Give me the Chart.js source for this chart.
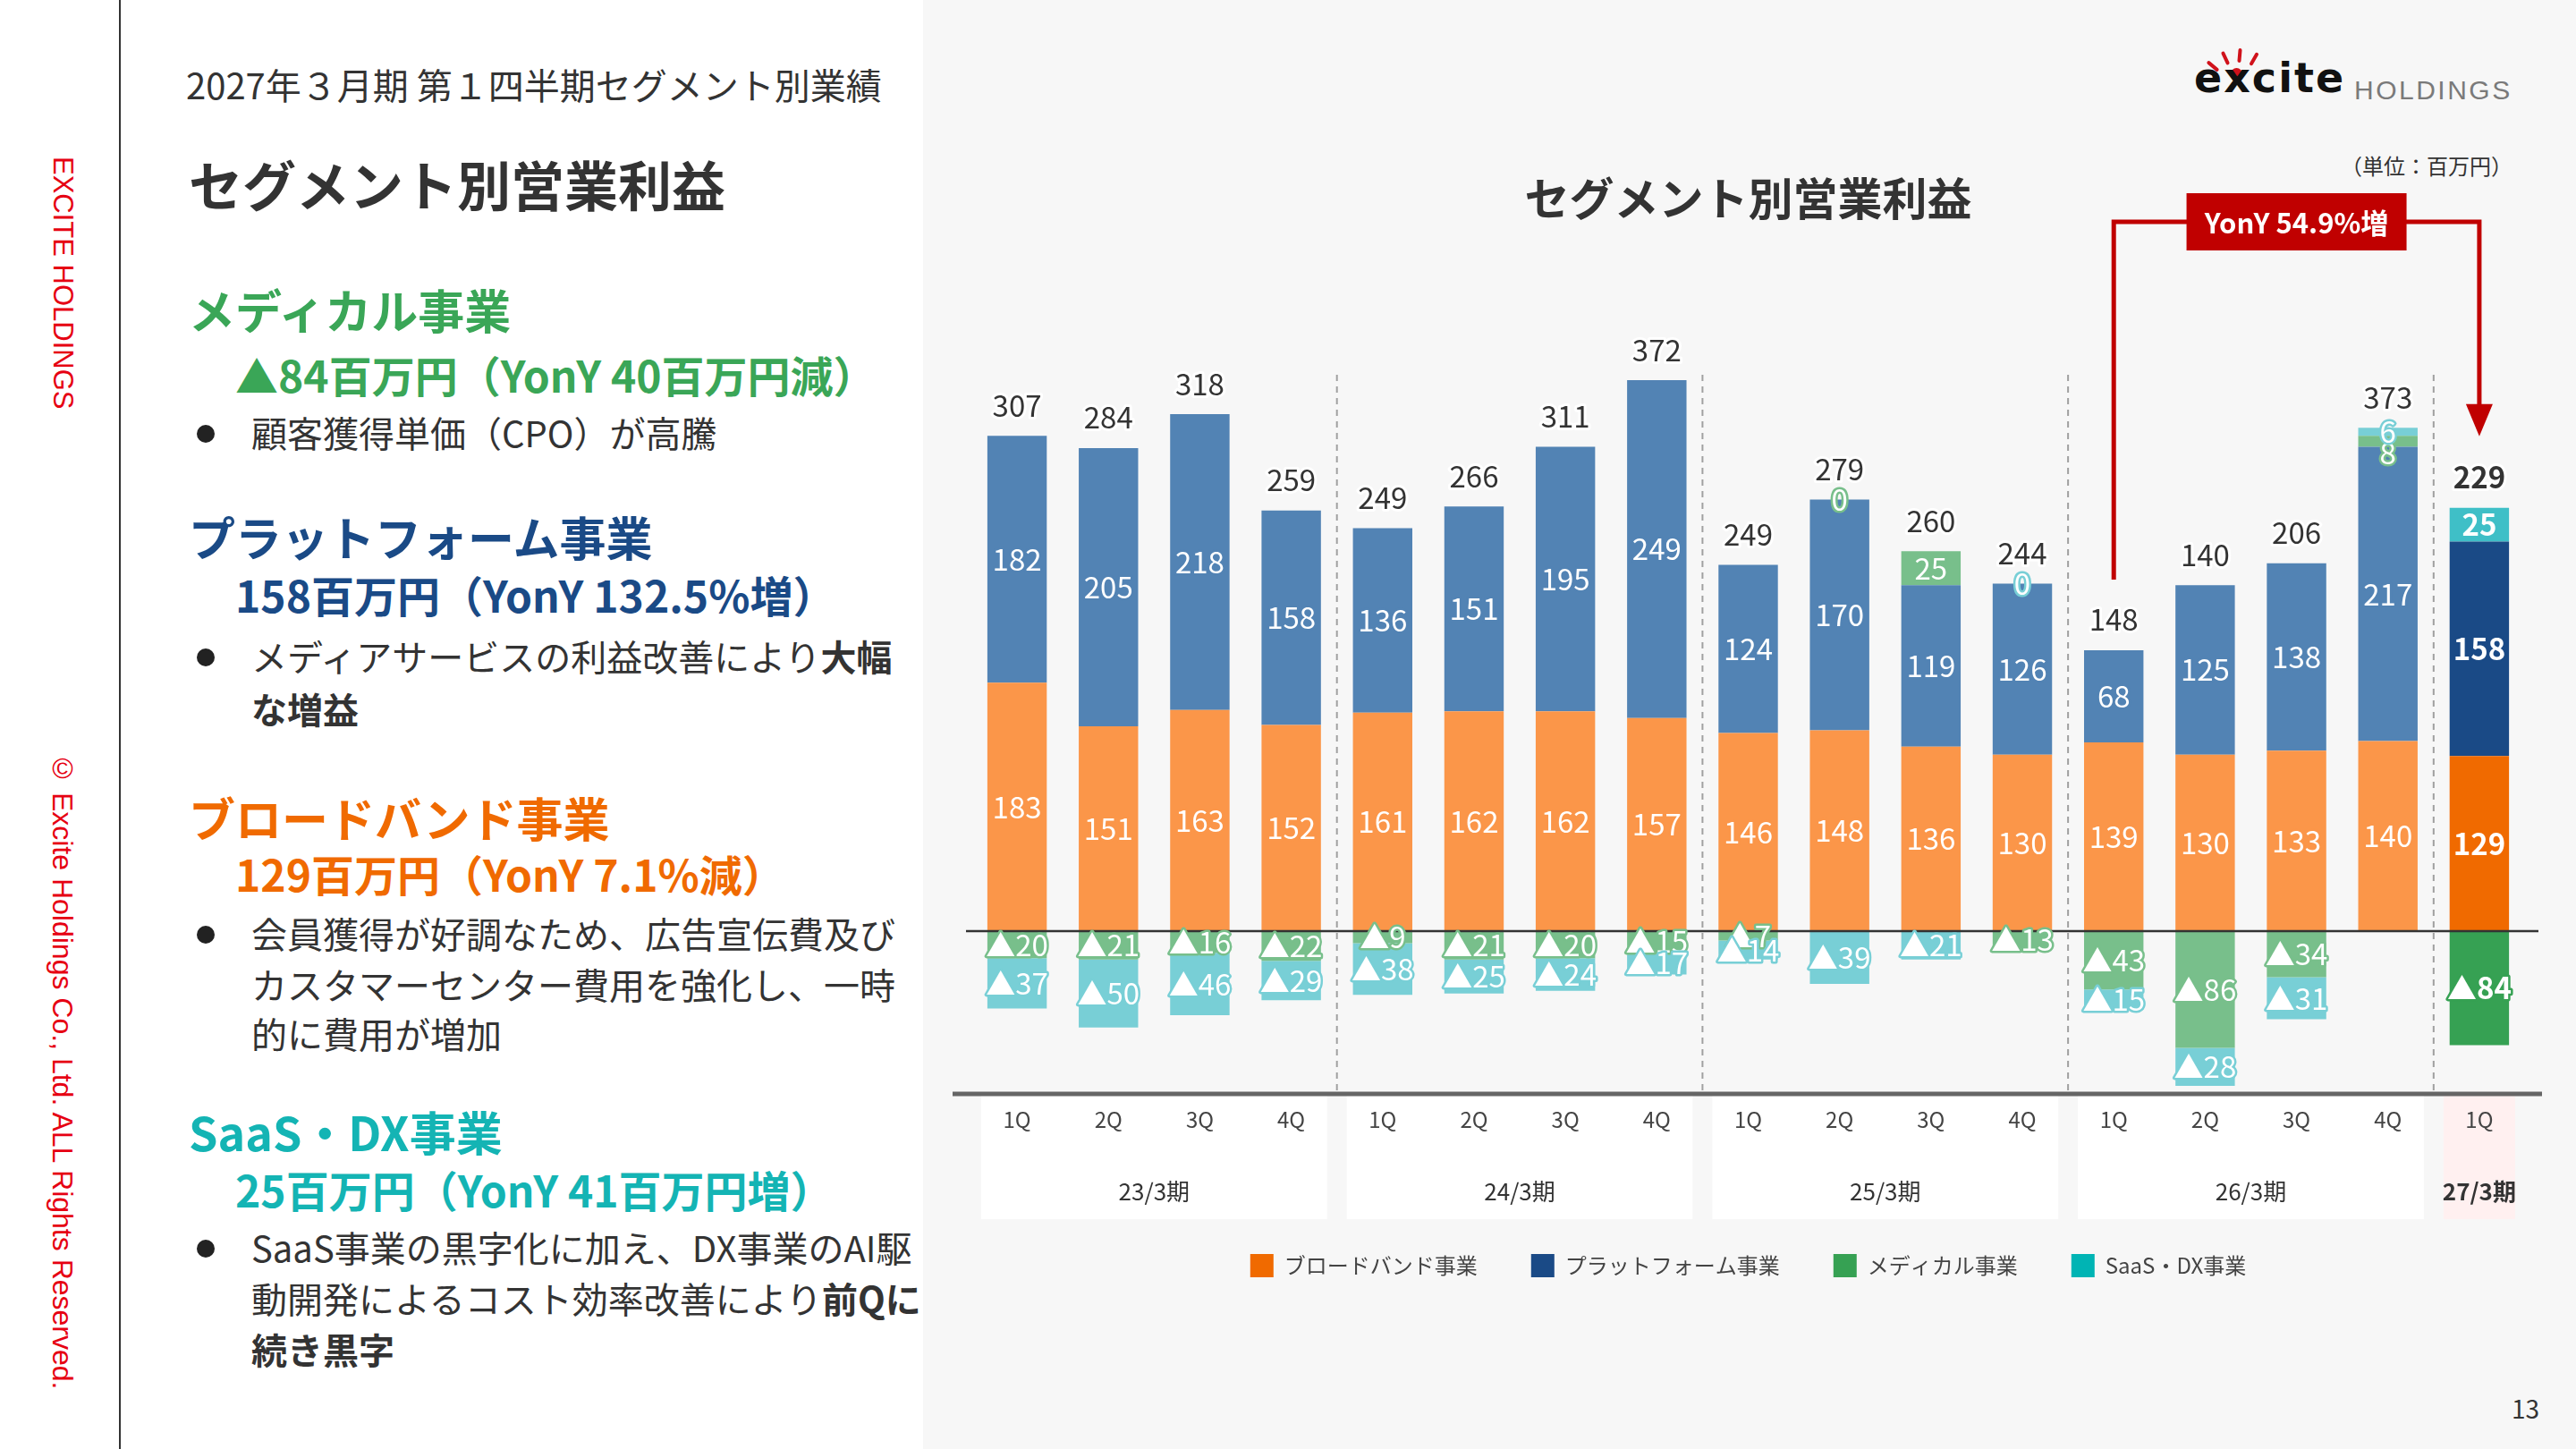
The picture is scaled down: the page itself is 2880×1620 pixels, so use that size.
<!DOCTYPE html>
<html lang="ja">
<head>
<meta charset="utf-8">
<script src="https://cdn.jsdelivr.net/npm/chart.js@4.4.1/dist/chart.umd.min.js"></script>
<style>
  html, body { margin: 0; padding: 0; }
  body { width: 2880px; height: 1620px; position: relative; overflow: hidden; background: #fff;
         font-family: 'Noto Sans CJK JP', 'Noto Sans', sans-serif; color: #333; }
  #right { position: absolute; left: 1032px; top: 0; width: 1848px; height: 1620px; background: #f7f7f7; }
  #vline { position: absolute; left: 133px; top: 0; width: 2px; height: 1620px; background: #333; }
  .t { position: absolute; white-space: nowrap; line-height: 1.2; }
  .b { font-weight: 700; }
  .vert { position: absolute; writing-mode: vertical-rl; line-height: 1; color: #e60012;
          font-family: 'Liberation Sans', sans-serif; white-space: nowrap; }
  .dot { position: absolute; width: 20px; height: 20px; border-radius: 50%; background: #222; }
  .spark { position: absolute; width: 4px; height: 16px; background: #d0121b; border-radius: 2px; }
  #chartBox { position: absolute; left: 1040px; top: 0; width: 1840px; height: 1438px; }
</style>
</head>
<body>
<div id="right"></div>
<div id="vline"></div>

<div class="vert" style="left:55px; top:175px; font-size:31px;">EXCITE HOLDINGS</div>
<div class="vert" style="left:54px; top:841px; font-size:32px;">© Excite Holdings Co., Ltd. ALL Rights Reserved.</div>

<div class="t" style="left:208px; top:70px; font-size:40px;">2027年３月期 第１四半期セグメント別業績</div>
<div class="t b" style="left:211px; top:169px; font-size:60px;">セグメント別営業利益</div>

<div class="t b" style="left:211px; top:315px; font-size:52px; color:#3aa657;">メディカル事業</div>
<div class="t b" style="left:263px; top:390px; font-size:48px; color:#3aa657;">▲84百万円（YonY 40百万円減）</div>
<div class="dot" style="left:220px; top:475px;"></div>
<div class="t" style="left:281px; top:459px; font-size:40px;">顧客獲得単価（CPO）が高騰</div>

<div class="t b" style="left:211px; top:569px; font-size:52px; color:#1a4a86;">プラットフォーム事業</div>
<div class="t b" style="left:263px; top:636px; font-size:48px; color:#1a4a86;">158百万円（YonY 132.5%増）</div>
<div class="dot" style="left:220px; top:725px;"></div>
<div class="t" style="left:281px; top:709px; font-size:40px;">メディアサービスの利益改善により<span class="b">大幅</span></div>
<div class="t b" style="left:281px; top:768px; font-size:40px;">な増益</div>

<div class="t b" style="left:211px; top:883px; font-size:52px; color:#f06a00;">ブロードバンド事業</div>
<div class="t b" style="left:263px; top:948px; font-size:48px; color:#f06a00;">129百万円（YonY 7.1%減）</div>
<div class="dot" style="left:220px; top:1035px;"></div>
<div class="t" style="left:281px; top:1019px; font-size:40px;">会員獲得が好調なため、広告宣伝費及び</div>
<div class="t" style="left:281px; top:1076px; font-size:40px;">カスタマーセンター費用を強化し、一時</div>
<div class="t" style="left:281px; top:1131px; font-size:40px;">的に費用が増加</div>

<div class="t b" style="left:211px; top:1234px; font-size:52px; color:#14b4b4;">SaaS・DX事業</div>
<div class="t b" style="left:263px; top:1301px; font-size:48px; color:#14b4b4;">25百万円（YonY 41百万円増）</div>
<div class="dot" style="left:220px; top:1386px;"></div>
<div class="t" style="left:281px; top:1370px; font-size:40px;">SaaS事業の黒字化に加え、DX事業のAI駆</div>
<div class="t" style="left:281px; top:1427px; font-size:40px;">動開発によるコスト効率改善により<span class="b">前Qに</span></div>
<div class="t b" style="left:281px; top:1484px; font-size:40px;">続き黒字</div>

<!-- logo -->
<div class="spark" style="left:2472px; top:66px; transform:rotate(-50deg);"></div>
<div class="spark" style="left:2486px; top:57px; transform:rotate(-25deg);"></div>
<div class="spark" style="left:2502px; top:54px; transform:rotate(5deg);"></div>
<div class="spark" style="left:2518px; top:58px; transform:rotate(30deg);"></div>
<div style="position:absolute; left:2494px; top:76px; width:13px; height:13px; border-radius:50%; background:#d0121b;"></div>
<div class="t" style="left:2453px; top:64px; font-family:'DejaVu Sans',sans-serif; font-weight:700; font-size:46px; letter-spacing:2px; color:#111; line-height:1;">excite</div>
<div class="t" style="left:2632px; top:86px; font-family:'Liberation Sans',sans-serif; font-size:30px; letter-spacing:2.5px; color:#7a7a7a; line-height:1;">HOLDINGS</div>

<div class="t" style="left:2617px; top:171px; font-size:24px;">（単位：百万円）</div>
<div class="t" style="left:2808px; top:1558px; font-size:28px;">13</div>

<div id="chartBox"><canvas id="segChart" width="1840" height="1438"></canvas></div>

<script>
  // 四半期ラベル
  const quarters = ['1Q', '2Q', '3Q', '4Q', '1Q', '2Q', '3Q', '4Q', '1Q', '2Q', '3Q', '4Q', '1Q', '2Q', '3Q', '4Q', '1Q'];
  const periods = ['23/3期', '24/3期', '25/3期', '26/3期', '27/3期'];
  const periodSizes = [4, 4, 4, 4, 1];

  // セグメント別営業利益（百万円）
  const broadband = [183, 151, 163, 152, 161, 162, 162, 157, 146, 148, 136, 130, 139, 130, 133, 140, 129];
  const platform = [182, 205, 218, 158, 136, 151, 195, 249, 124, 170, 119, 126, 68, 125, 138, 217, 158];
  const medical = [-20, -21, -16, -22, -9, -21, -20, -15, -7, 0, 25, -13, -43, -86, -34, 8, -84];
  const saas = [-37, -50, -46, -29, -38, -25, -24, -17, -14, -39, -21, 0, -15, -28, -31, 6, 25];
  const totals = [307, 284, 318, 259, 249, 266, 311, 372, 249, 279, 260, 244, 148, 140, 206, 373, 229];

  const yoyText = 'YonY 54.9%増';
  const calloutFrom = 12;
  const calloutTo = 16;

  const FONT = "'Noto Sans CJK JP', 'Noto Sans', sans-serif";
  Chart.defaults.font.family = FONT;

  const n = quarters.length;
  // 過去は淡色、最新四半期は濃色
  const shade = (light, dark) => quarters.map((q, i) => (i === n - 1 ? dark : light));
  const legendColors = ['#f06a00', '#1a4a86', '#36a153', '#00b4b4'];

  function posTop(chart, i) {
    let top = chart.scales.y.getPixelForValue(0);
    chart.data.datasets.forEach((ds, di) => {
      if (ds.data[i] > 0) {
        const bar = chart.getDatasetMeta(di).data[i];
        top = Math.min(top, bar.y);
      }
    });
    return top;
  }

  function boundary(chart, i) {
    const xs = chart.scales.x;
    if (i <= 0) return chart.chartArea.left;
    if (i >= n) return chart.chartArea.right;
    return (xs.getPixelForValue(i - 1) + xs.getPixelForValue(i)) / 2;
  }

  // 年度の背景ボックスと区切り線
  const periodPlugin = {
    id: 'periods',
    beforeDraw(chart) {
      const {ctx, chartArea} = chart;
      ctx.save();
      let start = 0;
      periods.forEach((p, pi) => {
        const end = start + periodSizes[pi];
        const x0 = boundary(chart, start) + 11;
        const x1 = boundary(chart, end) - 11;
        ctx.fillStyle = pi === periods.length - 1 ? '#fff0f0' : '#ffffff';
        ctx.fillRect(x0, chartArea.bottom + 2, x1 - x0, 138);
        start = end;
      });
      ctx.restore();
    },
    beforeDatasetsDraw(chart) {
      const {ctx, chartArea} = chart;
      ctx.save();
      ctx.strokeStyle = '#a0a0a0';
      ctx.lineWidth = 2;
      ctx.setLineDash([7, 6]);
      let start = 0;
      periodSizes.slice(0, -1).forEach(sz => {
        start += sz;
        const x = boundary(chart, start);
        ctx.beginPath();
        ctx.moveTo(x, chartArea.top);
        ctx.lineTo(x, chartArea.bottom);
        ctx.stroke();
      });
      ctx.setLineDash([]);
      ctx.strokeStyle = '#666';
      ctx.lineWidth = 5;
      ctx.beginPath();
      ctx.moveTo(chartArea.left - 21, chartArea.bottom);
      ctx.lineTo(chartArea.right + 19, chartArea.bottom);
      ctx.stroke();
      ctx.restore();
    },
    afterDraw(chart) {
      const {ctx, chartArea} = chart;
      ctx.save();
      ctx.textAlign = 'center';
      ctx.textBaseline = 'middle';
      ctx.fillStyle = '#333';
      let start = 0;
      periods.forEach((p, pi) => {
        const end = start + periodSizes[pi];
        const cx = (boundary(chart, start) + boundary(chart, end)) / 2;
        ctx.font = (pi === periods.length - 1 ? 'bold ' : '') + '26px ' + FONT;
        ctx.fillText(p, cx, chartArea.bottom + 109);
        start = end;
      });
      ctx.restore();
    }
  };

  // 値ラベル・合計・ゼロ線
  const labelPlugin = {
    id: 'segLabels',
    afterDatasetsDraw(chart) {
      const {ctx, chartArea} = chart;
      const y0 = chart.scales.y.getPixelForValue(0);
      ctx.save();
      ctx.strokeStyle = '#333';
      ctx.lineWidth = 2.5;
      ctx.beginPath();
      ctx.moveTo(chartArea.left - 6, y0);
      ctx.lineTo(chartArea.right + 15, y0);
      ctx.stroke();

      ctx.textAlign = 'center';
      ctx.textBaseline = 'middle';
      ctx.lineJoin = 'round';
      for (let i = 0; i < n; i++) {
        const last = i === n - 1;
        const top = posTop(chart, i);
        ctx.font = (last ? 'bold ' : '') + '33px ' + FONT;
        const items = chart.data.datasets.map((ds, di) => {
          const v = ds.data[i];
          const bar = chart.getDatasetMeta(di).data[i];
          return {
            v, x: bar.x, color: ds.backgroundColor[i],
            y: v === 0 ? top : (bar.y + bar.base) / 2,
            text: v < 0 ? '▲' + (-v) : String(v),
          };
        });
        // 小さな正の値が重なる場合は下にずらす
        const pos = items.filter(it => it.v > 0).sort((a, b) => a.y - b.y);
        for (let k = 1; k < pos.length; k++) {
          if (pos[k].y - pos[k - 1].y < 24) pos[k].y = pos[k - 1].y + 24;
        }
        items.forEach(it => {
          ctx.lineWidth = 5;
          ctx.strokeStyle = it.color;
          ctx.strokeText(it.text, it.x, it.y);
          ctx.fillStyle = '#fff';
          ctx.fillText(it.text, it.x, it.y);
        });
        const x = chart.scales.x.getPixelForValue(i);
        ctx.lineWidth = 6;
        ctx.strokeStyle = '#fff';
        ctx.strokeText(String(totals[i]), x, top - 34);
        ctx.fillStyle = '#333';
        ctx.fillText(String(totals[i]), x, top - 34);
      }
      ctx.restore();
    },
    afterDraw(chart) {
      const {ctx} = chart;
      const xs = chart.scales.x;
      const xa = xs.getPixelForValue(calloutFrom);
      const xb = xs.getPixelForValue(calloutTo);
      const ya = posTop(chart, calloutFrom) - 79;
      const tip = posTop(chart, calloutTo) - 80;
      const hy = 248;
      const red = '#c00000';
      ctx.save();
      ctx.strokeStyle = red;
      ctx.fillStyle = red;
      ctx.lineWidth = 5;
      ctx.beginPath();
      ctx.moveTo(xa, ya);
      ctx.lineTo(xa, hy);
      ctx.lineTo(xb, hy);
      ctx.lineTo(xb, tip - 34);
      ctx.stroke();
      ctx.beginPath();
      ctx.moveTo(xb - 15, tip - 36);
      ctx.lineTo(xb + 15, tip - 36);
      ctx.lineTo(xb, tip);
      ctx.closePath();
      ctx.fill();
      const cx = (xa + xb) / 2;
      ctx.fillRect(cx - 123, hy - 32, 246, 64);
      ctx.fillStyle = '#fff';
      ctx.font = 'bold 31px ' + FONT;
      ctx.textAlign = 'center';
      ctx.textBaseline = 'middle';
      ctx.fillText(yoyText, cx, hy + 1);
      ctx.restore();
    }
  };

  const ctx = document.getElementById('segChart').getContext('2d');
  new Chart(ctx, {
    type: 'bar',
    data: {
      labels: quarters,
      datasets: [
        { label: 'ブロードバンド事業', data: broadband, backgroundColor: shade('#fb9649', '#f06a00') },
        { label: 'プラットフォーム事業', data: platform, backgroundColor: shade('#5283b4', '#1a4a86') },
        { label: 'メディカル事業', data: medical, backgroundColor: shade('#78bf8b', '#36a153') },
        { label: 'SaaS・DX事業', data: saas, backgroundColor: shade('#78cfd6', '#3fbfc7') },
      ],
    },
    options: {
      responsive: false,
      animation: false,
      barPercentage: 0.65,
      categoryPercentage: 1.0,
      layout: { padding: { left: 46, right: 57, top: 0, bottom: 0 } },
      scales: {
        x: {
          stacked: true,
          grid: { display: false, drawTicks: false },
          border: { display: false },
          ticks: { color: '#444', font: { size: 24 }, padding: 14 },
          afterFit: scale => { scale.height = 119; },
        },
        y: { stacked: true, display: false, min: -120, max: 410 },
      },
      plugins: {
        title: {
          display: true,
          text: 'セグメント別営業利益',
          color: '#333',
          font: { size: 50, weight: 'bold' },
          padding: { top: 192, bottom: 167 },
        },
        legend: {
          position: 'bottom',
          labels: {
            boxWidth: 26,
            boxHeight: 26,
            padding: 60,
            color: '#444',
            font: { size: 24 },
            generateLabels: chart => chart.data.datasets.map((ds, i) => ({
              text: ds.label,
              fillStyle: legendColors[i],
              strokeStyle: legendColors[i],
              lineWidth: 0,
              fontColor: '#444',
              hidden: false,
              datasetIndex: i,
            })),
          },
        },
        tooltip: { enabled: false },
      },
    },
    plugins: [periodPlugin, labelPlugin],
  });
</script>
</body>
</html>
